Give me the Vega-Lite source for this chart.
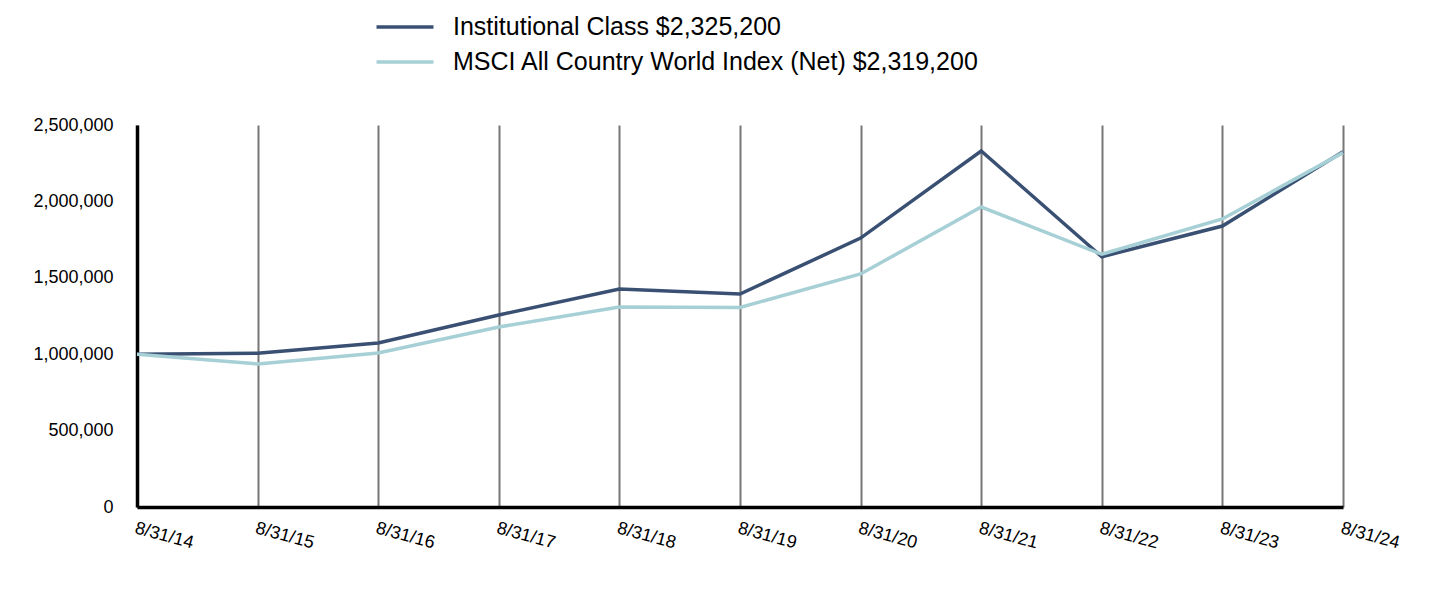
{
  "$schema": "https://vega.github.io/schema/vega-lite/v6.json",
  "autosize": {"type": "none"},
  "width": 1206,
  "height": 382,
  "padding": {"left": 137, "top": 125, "right": 89, "bottom": 89},
  "background": "white",
  "config": {
    "font": "Liberation Sans",
    "view": {"stroke": null}
  },
  "data": {
    "values": [
      {"date": "8/31/14", "series": "Institutional Class $2,325,200", "value": 1000000},
      {"date": "8/31/15", "series": "Institutional Class $2,325,200", "value": 1007000},
      {"date": "8/31/16", "series": "Institutional Class $2,325,200", "value": 1073000},
      {"date": "8/31/17", "series": "Institutional Class $2,325,200", "value": 1257000},
      {"date": "8/31/18", "series": "Institutional Class $2,325,200", "value": 1426000},
      {"date": "8/31/19", "series": "Institutional Class $2,325,200", "value": 1394000},
      {"date": "8/31/20", "series": "Institutional Class $2,325,200", "value": 1760000},
      {"date": "8/31/21", "series": "Institutional Class $2,325,200", "value": 2330000},
      {"date": "8/31/22", "series": "Institutional Class $2,325,200", "value": 1638000},
      {"date": "8/31/23", "series": "Institutional Class $2,325,200", "value": 1839000},
      {"date": "8/31/24", "series": "Institutional Class $2,325,200", "value": 2325200},
      {"date": "8/31/14", "series": "MSCI All Country World Index (Net) $2,319,200", "value": 1000000},
      {"date": "8/31/15", "series": "MSCI All Country World Index (Net) $2,319,200", "value": 936000},
      {"date": "8/31/16", "series": "MSCI All Country World Index (Net) $2,319,200", "value": 1008000},
      {"date": "8/31/17", "series": "MSCI All Country World Index (Net) $2,319,200", "value": 1178000},
      {"date": "8/31/18", "series": "MSCI All Country World Index (Net) $2,319,200", "value": 1309000},
      {"date": "8/31/19", "series": "MSCI All Country World Index (Net) $2,319,200", "value": 1306000},
      {"date": "8/31/20", "series": "MSCI All Country World Index (Net) $2,319,200", "value": 1525000},
      {"date": "8/31/21", "series": "MSCI All Country World Index (Net) $2,319,200", "value": 1963000},
      {"date": "8/31/22", "series": "MSCI All Country World Index (Net) $2,319,200", "value": 1654000},
      {"date": "8/31/23", "series": "MSCI All Country World Index (Net) $2,319,200", "value": 1885000},
      {"date": "8/31/24", "series": "MSCI All Country World Index (Net) $2,319,200", "value": 2319200}
    ]
  },
  "mark": {"type": "line", "strokeWidth": 3.5, "strokeJoin": "miter"},
  "encoding": {
    "x": {
      "field": "date",
      "type": "ordinal",
      "sort": null,
      "scale": {"type": "point", "padding": 0},
      "axis": {
        "title": null,
        "grid": true,
        "gridColor": "#777777",
        "gridWidth": 2,
        "domainColor": "#000000",
        "domainWidth": 3.5,
        "ticks": false,
        "labelAngle": 15,
        "labelAlign": "left",
        "labelBaseline": "top",
        "labelFontSize": 18,
        "labelColor": "#000000",
        "labelPadding": 12,
        "labelOverlap": false
      }
    },
    "y": {
      "field": "value",
      "type": "quantitative",
      "scale": {"domain": [0, 2500000], "nice": false},
      "axis": {
        "title": null,
        "grid": false,
        "values": [0, 500000, 1000000, 1500000, 2000000, 2500000],
        "format": ",d",
        "domainColor": "#000000",
        "domainWidth": 3.5,
        "ticks": false,
        "labelFontSize": 18,
        "labelColor": "#000000",
        "labelPadding": 24
      }
    },
    "color": {
      "field": "series",
      "type": "nominal",
      "scale": {
        "domain": ["Institutional Class $2,325,200", "MSCI All Country World Index (Net) $2,319,200"],
        "range": ["#3a5073", "#a6d0d6"]
      },
      "legend": {
        "title": null,
        "orient": "none",
        "legendX": 252,
        "legendY": -114,
        "direction": "vertical",
        "symbolType": "M-2,0H2",
        "symbolSize": 812,
        "symbolStrokeWidth": 3.5,
        "labelFontSize": 25,
        "labelColor": "#000000",
        "labelOffset": 32,
        "rowPadding": 6,
        "labelLimit": 800
      }
    }
  }
}
